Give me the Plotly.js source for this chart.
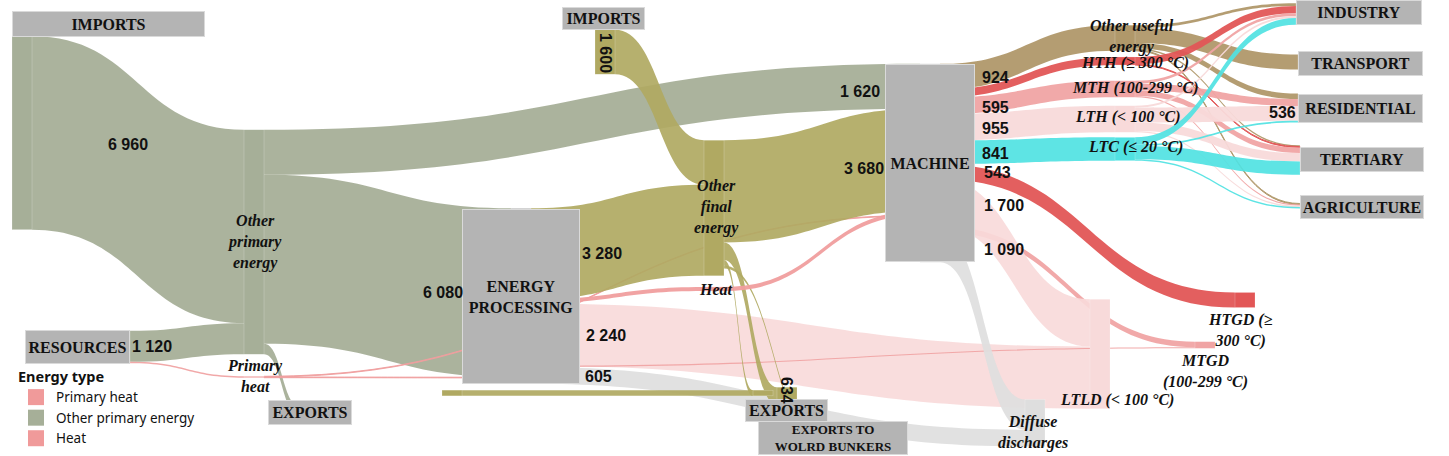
<!DOCTYPE html>
<html><head><meta charset="utf-8">
<script src="https://cdn.plot.ly/plotly-3.0.1.min.js"></script>
<style>html,body{margin:0;padding:0;background:#fff;overflow:hidden}#chart{width:1449px;height:456px}</style>
</head><body><div id="chart"></div>
<script>
// ---------- DATA ----------
const nodeNames = ['IMPORTS','RESOURCES','IMPORTS','Other primary energy','Primary heat','EXPORTS',
  'ENERGY PROCESSING','Other final energy','Heat','MACHINE','EXPORTS','EXPORTS TO WOLRD BUNKERS',
  'Other useful energy','HTH (≥ 300 °C)','MTH (100-299 °C)','LTH (< 100 °C)','LTC (≤ 20 °C)',
  'INDUSTRY','TRANSPORT','RESIDENTIAL','TERTIARY','AGRICULTURE',
  'HTGD (≥ 300 °C)','MTGD (100-299 °C)','LTLD (< 100 °C)','Diffuse discharges',
  'Return to energy processing','Return to energy processing'];
const linkSource = [0,1,1,3,3,3,4,4,2,6,6,6,6,6,7,7,7,7,26,8,9,9,9,9,9,9,9,9,9,12,12,12,12,12,13,13,14,14,14,14,15,15,15,15,16,16,16,16];
const linkTarget = [3,3,4,9,6,5,6,9,7,7,8,24,25,23,9,10,11,26,27,9,12,13,14,15,16,22,23,24,25,17,18,19,20,21,17,20,17,19,20,21,17,19,20,21,17,19,20,21];
const linkValue  = [6960,1120,50,1620,6080,380,25,25,1600,3280,150,2240,605,40,3680,634,100,200,200,150,924,290,595,955,841,543,200,1700,1090,100,540,200,50,34,260,30,100,250,200,45,70,536,300,49,250,60,480,51];
const linkType   = ['Other primary energy','Other primary energy','Primary heat','Other primary energy','Other primary energy','Other primary energy','Primary heat','Primary heat',
  'Other final energy','Other final energy','Heat','LTLD','Diffuse','MTGD','Other final energy','Other final energy','Other final energy','Other final energy','Other final energy','Heat',
  'Other useful energy','HTH','MTH','LTH','LTC','HTGD','MTGD','LTLD','Diffuse',
  'Other useful energy','Other useful energy','Other useful energy','Other useful energy','Other useful energy',
  'HTH','HTH','MTH','MTH','MTH','MTH','LTH','LTH','LTH','LTH','LTC','LTC','LTC','LTC'];
const legendTypes = ['Primary heat','Other primary energy','Heat'];

// ---------- STYLE / LAYOUT ----------
const W = 1449, H = 456, PAD = 11.75, THICK = 20;
const typeColor = {
  'Primary heat':'rgba(240,158,158,0.9)', 'Other primary energy':'rgba(166,175,152,0.95)', 'Heat':'rgba(240,158,158,0.95)',
  'Other final energy':'rgba(176,169,98,0.92)', 'Other useful energy':'rgba(176,152,106,0.95)',
  'HTH':'rgba(226,86,86,0.95)', 'MTH':'rgba(240,164,164,0.95)', 'LTH':'rgba(248,218,218,0.95)', 'LTC':'rgba(80,226,226,0.92)',
  'HTGD':'rgba(226,86,86,0.95)', 'MTGD':'rgba(240,164,164,0.95)', 'LTLD':'rgba(248,218,218,0.92)', 'Diffuse':'rgba(222,222,222,0.92)'
};
const legendColor = {'Primary heat':'#f09a9a','Other primary energy':'#a6af98','Heat':'#f09a9a'};
const GRAY = '#b4b4b4', GG = '#a6af98', OL = '#b0a962', NONE = 'rgba(0,0,0,0)';
const nodeColor = [GG,GRAY,OL,GG,'#f09e9e',GG,GRAY,OL,'#f09e9e',GRAY,OL,OL,
  '#b0986a','#e25656','#f0a4a4','#f8dada','#50e2e2',NONE,NONE,NONE,NONE,NONE,'#e25656','#f0a4a4','#f8dada','#dedede',OL,OL];
// node centres in pixels
const nodePosX = [22,120,605,254,254,310,521,714,714,930,787,833,1125,1125,1125,1125,1125,1306,1308,1308,1310,1310,1245,1205,1100,1035,763,452];
const nodePosY = [133,347,52,242,377,412,296,208,289,163,396,443,38,61,89,119,149,14,62,108,160,206,300,345,354,423,393,393];

const fmt = v => String(v).replace(/\B(?=(\d{3})+(?!\d))/g, ' ');
const px = x => x / W, py = y => 1 - y / H;

// node values and the library's vertical scale (binding column = sinks)
const inSum = nodeNames.map(() => 0), outSum = nodeNames.map(() => 0);
linkValue.forEach((v, i) => { outSum[linkSource[i]] += v; inSum[linkTarget[i]] += v; });
const nodeValue = nodeNames.map((_, i) => Math.max(inSum[i], outSum[i]));
const sinks = nodeNames.map((_, i) => i).filter(i => outSum[i] === 0);
const KY = (H - (sinks.length - 1) * PAD) / sinks.reduce((s, i) => s + nodeValue[i], 0);

const SERIF = 'Liberation Serif, Times New Roman, serif';
const SANS = 'Liberation Sans, Arial, sans-serif';

function box(text, x0, y0, x1, y1, size) {
  return {xref:'paper', yref:'paper', x:px((x0+x1)/2), y:py((y0+y1)/2), xanchor:'center', yanchor:'middle',
    width:x1-x0-2, height:y1-y0-2, bgcolor:GRAY, bordercolor:'#dadada', borderwidth:1, borderpad:0,
    showarrow:false, text:'<b>'+text+'</b>', font:{family:SERIF, size:size||16, color:'#111'}};
}
function nodeBox(text, idx, w) {
  const h = nodeValue[idx] * KY, cx = nodePosX[idx], cy = nodePosY[idx];
  return box(text, cx - w/2, cy - h/2, cx + w/2, cy + h/2);
}
function ital(text, x, y, anchor) {
  return {xref:'paper', yref:'paper', x:px(x), y:py(y), xanchor:anchor||'center', yanchor:'middle', showarrow:false,
    text:'<b><i>'+text+'</i></b>', font:{family:SERIF, size:16, color:'#111'}};
}
function num(linkIdx, x, y, anchor, angle) {
  return {xref:'paper', yref:'paper', x:px(x), y:py(y), xanchor:anchor||'center', yanchor:'middle', showarrow:false,
    textangle:angle||0, text:'<b>'+fmt(linkValue[linkIdx])+'</b>', font:{family:SANS, size:16, color:'#111'}};
}

const annotations = [
  nodeBox('MACHINE', 9, 90),
  nodeBox('ENERGY<br>PROCESSING', 6, 118),
  box('IMPORTS', 12, 11, 205, 37),
  box('RESOURCES', 25, 330, 130, 364),
  box('IMPORTS', 562, 7, 645, 30),
  box('EXPORTS', 268, 400, 352, 425),
  box('EXPORTS', 745, 399, 828, 422),
  {xref:'paper', yref:'paper', x:px(833), y:py(455), xanchor:'center', yanchor:'bottom',
    width:148, bgcolor:GRAY, bordercolor:'#dadada', borderwidth:1, borderpad:0, showarrow:false,
    text:'<b>EXPORTS TO<br>WOLRD BUNKERS</b>', font:{family:SERIF, size:13, color:'#111'}},
  box('INDUSTRY', 1296, 0, 1422, 25),
  box('TRANSPORT', 1298, 51, 1423, 76),
  box('RESIDENTIAL', 1298, 94, 1423, 123),
  box('TERTIARY', 1300, 147, 1424, 172),
  box('AGRICULTURE', 1300, 195, 1424, 219),
  ital('Other<br>primary<br>energy', 254, 242),
  ital('Primary<br>heat', 255, 376),
  ital('Other<br>final<br>energy', 716, 207),
  ital('Heat', 716, 289),
  ital('Other useful<br>energy', 1132, 37),
  ital('HTH (≥ 300 °C)', 1135, 63),
  ital('MTH (100-299 °C)', 1135, 88),
  ital('LTH (< 100 °C)', 1128, 117),
  ital('LTC (≤ 20 °C)', 1135, 147),
  ital('HTGD (≥<br>300 °C)', 1240, 330),
  ital('MTGD<br>(100-299 °C)', 1205, 371),
  ital('LTLD (< 100 °C)', 1117, 400),
  ital('Diffuse<br>discharges', 1033, 432),
  num(0, 128, 144), num(1, 152, 346), num(3, 860, 92), num(4, 443, 292),
  num(8, 605, 53, 'center', 90), num(9, 602, 253), num(14, 864, 168),
  num(11, 606, 335), num(12, 598, 376), num(15, 787, 390, 'center', 90),
  num(20, 980, 78, 'left'), num(22, 980, 107, 'left'), num(23, 980, 128, 'left'), num(24, 980, 153, 'left'),
  num(25, 982, 172, 'left'), num(27, 982, 205, 'left'), num(28, 982, 249, 'left'),
  num(41, 1298, 113, 'right')
];

const sankey = {
  type:'sankey', arrangement:'fixed', hoverinfo:'none',
  domain:{x:[0,1], y:[0,1]},
  node:{label:nodeNames, color:nodeColor, thickness:THICK, pad:PAD,
        x:nodePosX.map(v => v / W), y:nodePosY.map(v => v / H),
        line:{color:'rgba(255,255,255,0.4)', width:0.5}, hoverinfo:'none'},
  textfont:{color:'rgba(0,0,0,0)', size:1},
  link:{source:linkSource, target:linkTarget, value:linkValue,
        color:linkType.map(t => typeColor[t]), hoverinfo:'none'}
};
const legendTraces = legendTypes.map(t => ({type:'scatter', x:[null], y:[null], mode:'markers', name:t,
  marker:{symbol:'square', size:17, color:legendColor[t]}, hoverinfo:'skip', showlegend:true}));

const layout = {
  width:W, height:H, margin:{l:0, r:0, t:0, b:0, autoexpand:false}, paper_bgcolor:'#fff', plot_bgcolor:'rgba(0,0,0,0)',
  xaxis:{visible:false}, yaxis:{visible:false}, showlegend:true,
  legend:{x:px(16), y:py(363), xanchor:'left', yanchor:'top', bgcolor:'rgba(0,0,0,0)', tracegroupgap:0,
    title:{text:'<b>Energy type</b>', font:{family:'Noto Sans, sans-serif', size:14.5, color:'#111'}},
    font:{family:'Noto Sans, sans-serif', size:13.5, color:'#111'}},
  annotations: annotations
};

Plotly.newPlot('chart', [sankey].concat(legendTraces), layout, {staticPlot:true, displayModeBar:false});
</script></body></html>
